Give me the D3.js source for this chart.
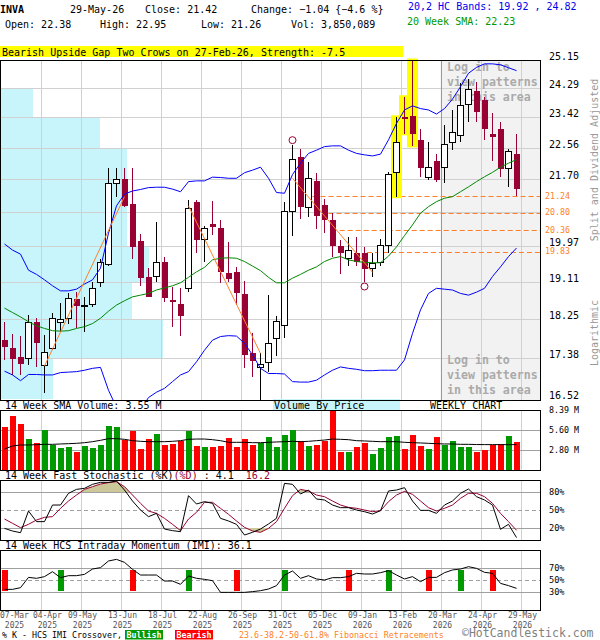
<!DOCTYPE html>
<html>
<head>
<meta charset="utf-8">
<script src="https://cdn.jsdelivr.net/npm/d3@7"></script>
<style>
  body { margin: 0; background: #fff; }
  svg { display: block; }
  text { white-space: pre; }
</style>
</head>
<body>
<div id="chart"></div>
<script>
// Weekly bars, 07-Mar-2025 .. 29-May-2026 (65 weeks)
const open  = [17.77,17.59,17.41,17.37,18.17,17.21,17.59,18.17,18.26,18.69,
               18.55,18.58,19.09,19.52,21.58,21.70,21.04,20.09,19.21,19.24,
               19.57,18.68,18.58,18.95,21.10,20.14,20.52,20.41,19.32,19.34,
               18.82,17.50,17.18,17.28,17.81,18.09,20.84,22.29,20.95,21.65,
               21.01,20.62,19.98,19.67,19.81,19.81,19.41,19.57,19.99,21.88,
               23.43,23.46,22.78,21.75,22.19,22.01,22.71,22.90,23.81,24.20,
               23.93,22.95,23.09,21.99,22.38];
const high  = [18.17,17.91,17.86,18.33,18.26,17.88,18.37,18.60,18.85,18.87,
               18.74,19.09,19.64,21.99,21.99,21.99,21.99,20.27,19.43,20.57,
               19.71,18.97,18.95,21.14,21.14,20.47,21.12,20.62,20.08,19.46,
               19.13,17.92,17.50,18.79,18.31,21.08,22.63,22.52,22.15,21.85,
               21.16,20.80,20.12,20.20,20.20,19.95,19.81,20.14,21.90,23.44,
               24.03,25.15,23.09,22.71,22.37,23.20,23.64,24.43,24.56,24.48,
               24.03,23.56,23.28,22.52,22.95];
const low   = [17.34,17.02,17.02,17.23,17.19,16.65,17.55,17.96,18.14,18.03,
               17.96,18.52,18.99,19.48,21.21,20.96,19.65,19.01,18.74,19.09,
               18.64,18.07,17.87,18.86,19.81,19.59,20.24,19.08,19.11,18.56,
               17.16,16.98,16.40,17.09,17.42,17.82,20.23,20.65,20.71,20.40,
               20.29,19.71,19.29,19.49,19.49,19.11,19.21,19.49,19.79,21.23,
               22.95,22.61,21.76,21.67,21.63,21.60,22.49,22.73,23.28,23.28,
               22.78,22.20,21.76,21.49,21.26];
const close = [17.63,17.37,17.25,18.17,17.70,17.50,18.26,18.24,18.72,18.55,
               18.56,18.95,19.57,21.58,21.69,20.99,19.95,19.20,18.75,19.57,
               18.72,18.62,18.32,20.93,20.12,20.41,20.45,19.34,19.17,18.85,
               17.45,17.32,17.25,17.70,18.18,20.84,22.24,20.95,21.72,20.73,
               20.62,19.98,19.79,19.85,19.57,19.41,19.55,19.98,21.81,22.71,
               23.38,22.95,22.01,22.01,21.67,22.65,22.99,23.76,24.25,23.57,
               23.09,22.87,21.97,22.46,21.42];

// volume in millions of shares and its 14 week average
const volume = [6.06,7.60,6.43,4.33,3.73,5.59,3.50,3.12,3.22,2.56,
                3.36,3.12,3.50,6.15,6.01,4.20,5.50,2.94,4.38,5.03,
                3.50,3.64,4.01,5.50,3.36,3.22,3.22,3.36,4.47,3.22,
                4.38,3.50,3.82,4.61,3.22,4.90,5.59,4.06,3.36,3.50,
                4.06,8.39,2.52,2.52,3.22,3.78,2.24,3.08,4.61,4.75,
                2.94,4.90,3.36,2.94,4.61,3.45,4.06,3.22,3.22,2.52,
                2.80,3.54,3.64,4.75,3.850089];
const volumeSma = [2.94,3.36,3.50,3.50,3.54,3.59,3.59,3.64,3.68,3.73,
                   3.82,3.96,4.15,4.38,4.38,4.29,4.10,4.01,3.96,3.96,
                   3.96,4.01,4.10,4.29,4.33,4.33,4.24,4.10,3.87,3.87,
                   3.87,3.82,3.82,3.87,3.92,3.96,4.01,3.96,4.01,4.10,
                   4.19,4.33,4.29,4.24,4.10,4.06,4.01,3.96,3.96,3.96,
                   3.87,3.82,3.78,3.73,3.68,3.64,3.64,3.59,3.59,3.56,
                   3.55,3.55,3.55,3.54,3.55];

// 20,2 bands and 20 week SMA
const bbUpper = [20.02,19.87,19.77,19.38,19.28,19.15,19.01,18.89,18.89,18.93,
                 19.05,19.15,19.43,20.29,20.99,21.30,21.38,21.42,21.47,21.48,
                 21.48,21.43,21.36,21.63,21.65,21.65,21.75,21.74,21.72,21.72,
                 21.87,21.94,22.02,21.72,21.34,21.32,21.82,22.13,22.40,22.49,
                 22.59,22.61,22.61,22.49,22.40,22.36,22.33,22.38,22.78,23.25,
                 23.64,23.76,23.68,23.64,23.52,23.68,23.96,24.33,24.74,24.92,
                 25.03,25.03,25.00,24.91,24.82];
const sma20   = [18.49,18.39,18.29,18.18,18.09,18.03,17.98,17.97,17.98,18.03,
                 18.07,18.14,18.26,18.42,18.56,18.66,18.75,18.79,18.83,18.91,
                 18.96,19.01,19.08,19.21,19.34,19.45,19.63,19.67,19.68,19.67,
                 19.59,19.48,19.37,19.21,19.08,19.08,19.19,19.28,19.38,19.46,
                 19.59,19.67,19.71,19.63,19.59,19.57,19.56,19.56,19.72,19.95,
                 20.23,20.50,20.80,20.97,21.10,21.19,21.23,21.36,21.49,21.63,
                 21.76,21.88,22.02,22.13,22.23];
const bbLower = [17.10,17.02,16.90,17.03,17.03,17.02,17.02,17.07,17.08,17.09,
                 17.12,17.16,17.18,16.70,16.35,16.20,16.15,16.30,16.55,16.66,
                 16.74,16.88,17.02,17.09,17.30,17.55,17.77,17.85,17.87,17.86,
                 17.70,17.45,17.16,17.05,17.05,17.04,16.88,16.87,16.87,16.91,
                 17.02,17.12,17.19,17.16,17.14,17.11,17.11,17.12,17.12,17.12,
                 17.34,17.92,18.45,18.83,18.95,18.93,18.91,18.83,18.79,18.86,
                 18.95,19.23,19.46,19.71,19.92];

// 14 week fast stochastic
const stochK = [19.4,15.0,12.2,48.3,30.6,30.6,58.3,58.3,77.8,84.4,
                86.1,92.8,96.1,96.1,98.3,83.3,65.0,50.0,38.9,44.4,
                18.3,15.6,13.9,73.9,60.0,63.9,61.1,36.1,31.7,26.1,
                8.3,12.8,18.3,26.7,36.1,94.4,92.8,76.7,83.3,68.3,
                66.7,58.3,53.9,53.9,50.0,47.2,43.3,48.9,81.7,83.3,
                87.2,65.0,49.4,49.4,44.4,58.3,65.0,77.8,85.0,72.2,
                66.7,58.3,17.8,26.1,4.1];
const stochD = [35.0,27.8,20.6,26.1,33.3,37.8,38.9,52.8,65.0,75.0,
                84.4,88.9,93.3,95.6,97.2,88.9,75.0,61.1,48.3,44.4,
                36.1,26.1,15.6,35.0,46.1,62.8,62.8,52.8,42.8,31.7,
                21.1,15.0,12.8,19.4,30.6,52.8,73.9,84.4,81.7,75.0,
                72.2,65.0,58.3,54.4,52.8,50.0,47.2,48.9,63.9,75.0,
                81.0,76.1,65.0,53.9,48.3,52.8,58.3,69.4,77.8,77.8,
                72.2,61.1,44.4,30.6,16.2];

// 14 week HCS intraday momentum and %K crossovers
const imi = [34.4,34.4,37.2,54.4,52.8,55.6,63.9,53.9,57.2,57.2,
             59.4,68.3,70.6,81.7,84.4,79.4,67.8,58.3,58.3,58.3,
             48.3,48.3,42.8,56.7,52.8,51.1,48.9,29.4,29.4,29.4,
             29.4,30.6,32.2,35.0,40.6,58.3,65.0,52.8,57.2,51.7,
             50.0,53.9,53.9,55.6,61.1,60.0,60.0,62.2,65.6,58.3,
             51.7,55.6,47.2,54.4,54.4,62.2,66.7,68.3,72.2,69.4,
             62.8,61.1,44.4,40.6,36.1];
const imiBullish = [7, 23, 35, 48, 57];
const imiBearish = [0, 16, 29, 43, 53, 61];

// axes
const priceTicks = [25.15,24.29,23.42,22.56,21.70,20.83,19.97,19.11,18.25,17.38,16.52];
const vbpVolume  = [0, 8.6, 26.0, 33.0, 33.0, 33.0, 38.7, 34.3, 42.4, 13.8]; // per price band, M shares
const volTicks   = [2.80, 5.60, 8.39];
const stochTicks = [20, 50, 80];
const imiTicks   = [30, 50, 70];
const tickIdx  = [0,4,9,14,19,24,29,34,39,44,49,54,59,64];
const tickDay  = ["07-Mar","04-Apr","09-May","13-Jun","18-Jul","22-Aug","26-Sep",
                  "31-Oct","05-Dec","09-Jan","13-Feb","20-Mar","24-Apr","29-May"];
const tickYear = ["2025","2025","2025","2025","2025","2025","2025",
                  "2025","2025","2026","2026","2026","2026","2026"];

// annotations
const fibLevels  = [21.24, 20.80, 20.36, 19.83];
const fibStart   = [38.5, 40.5, 41.9, 45.3];
const trendLines = [[5, 17.21, 15, 21.23], [23, 20.99, 32, 17.48], [36, 21.72, 46, 19.33]];
const swingHighs = [36];
const swingLows  = [45];
const patternBars = [49, 50, 51];
const lockedFrom = 54;

// ------------------------------------------------------------------
const plotW = 540;
const mainP = { top: 60, bottom: 400 };
const volP  = { top: 410, bottom: 470 };
const stoP  = { top: 480, bottom: 540 };
const imiP  = { top: 550, bottom: 610 };

const bear = "#990033", volUp = "#009900", volDown = "#ff0000";
const gridC = "#d0d0d0", grid2 = "#a0a0a0", fibC = "#ff7f27", khaki = "#ccc899";

const N = close.length;
const x = d3.scaleLinear().domain([0, N - 1]).range([4.5, 4.5 + 8 * (N - 1)]);
const gridX = i => x(i) + 4;
const yPrice = d3.scaleLog().domain([16.52, 25.15]).range([399, 60]);
const yVol = d3.scaleLinear().domain([0, 8.39]).range([volP.bottom, volP.top]);
const yStoch = d3.scaleLinear().domain([0, 100]).range([stoP.bottom, stoP.top]);
const yImi = d3.scaleLinear().domain([0, 100]).range([imiP.bottom, imiP.top]);
const vbpX = d3.scaleLinear().domain([0, d3.max(vbpVolume)]).range([0, plotW * 0.302]);

const f2 = d3.format(".2f");
const f1 = d3.format(".1f");

const svg = d3.select("#chart").append("svg")
    .attr("width", 600)
    .attr("height", 640)
    .style("font-family", "'DejaVu Sans Mono', monospace");

svg.append("rect").attr("width", 600).attr("height", 640).attr("fill", "#fff");

const defs = svg.append("defs");
function clip(id, p) {
    defs.append("clipPath").attr("id", id).append("rect")
        .attr("x", 0).attr("y", p.top).attr("width", plotW).attr("height", p.bottom - p.top);
}
clip("clipMain", mainP);
clip("clipVol", volP);
clip("clipSto", stoP);
clip("clipImi", imiP);

function txt(g, xx, yy, s, size, fill) {
    return g.append("text").attr("x", xx).attr("y", yy)
        .attr("font-size", size).attr("fill", fill || "#000").text(s);
}

function vGrid(g, p) {
    g.selectAll(null).data(tickIdx.slice(1)).enter().append("line")
        .attr("x1", d => gridX(d) + 0.5).attr("x2", d => gridX(d) + 0.5)
        .attr("y1", p.top).attr("y2", p.bottom)
        .attr("stroke", gridC).attr("shape-rendering", "crispEdges");
}

function hGrid(g, ys, color, dash) {
    g.selectAll(null).data(ys).enter().append("line")
        .attr("x1", 0).attr("x2", plotW)
        .attr("y1", d => Math.round(d) + 0.5).attr("y2", d => Math.round(d) + 0.5)
        .attr("stroke", color).attr("stroke-dasharray", dash || null)
        .attr("shape-rendering", "crispEdges");
}

function border(p) {
    svg.append("rect").attr("x", 0.5).attr("y", p.top + 0.5)
        .attr("width", plotW).attr("height", p.bottom - p.top)
        .attr("fill", "none").attr("stroke", "#000").attr("shape-rendering", "crispEdges");
}

// ---------------- header ----------------
const last = N - 1;
const chg = close[last] - close[last - 1];
const head = svg.append("g").attr("font-size", 10);
txt(head, 0, 13, "INVA", 10).attr("font-weight", "bold");
txt(head, 70, 13, "29-May-26", 10);
txt(head, 145, 13, "Close: " + f2(close[last]), 10);
txt(head, 251, 13, "Change: " + f2(chg) + " {" + f1(chg / close[last - 1] * 100) + " %}", 10);
txt(head, 5, 28, "Open: " + f2(open[last]), 10);
txt(head, 100, 28, "High: " + f2(high[last]), 10);
txt(head, 201, 28, "Low: " + f2(low[last]), 10);
txt(head, 291, 28, "Vol: " + d3.format(",")(Math.round(volume[last] * 1e6)), 10);
txt(head, 408, 10, "20,2 HC Bands: " + f2(bbLower[last]) + " , " + f2(bbUpper[last]), 10, "#0000ee");
txt(head, 407, 25, "20 Week SMA: " + f2(sma20[last]), 10, "#009900");

head.append("rect").attr("x", 0).attr("y", 46).attr("width", 403).attr("height", 11).attr("fill", "#ffff00");
txt(head, 2, 55.5, "Bearish Upside Gap Two Crows on 27-Feb-26, Strength: -7.5", 10);

// ---------------- main price panel ----------------
const gMain = svg.append("g");
gMain.append("rect").attr("x", 0).attr("y", mainP.top).attr("width", plotW)
    .attr("height", mainP.bottom - mainP.top).attr("fill", "#fff");

// locked area on the right
const lockX = gridX(lockedFrom);
gMain.append("rect").attr("x", lockX).attr("y", mainP.top).attr("width", plotW - lockX)
    .attr("height", mainP.bottom - mainP.top).attr("fill", "#f2f2f2");

// volume by price
gMain.selectAll(".vbp").data(vbpVolume).enter().append("rect")
    .attr("class", "vbp")
    .attr("x", 0)
    .attr("y", (d, k) => Math.round(yPrice(priceTicks[k])))
    .attr("width", d => vbpX(d))
    .attr("height", (d, k) => Math.round(yPrice(priceTicks[k + 1])) - Math.round(yPrice(priceTicks[k])))
    .attr("fill", "#c8f4fc")
    .attr("shape-rendering", "crispEdges");

hGrid(gMain, priceTicks.slice(1, -1).map(yPrice), gridC);
vGrid(gMain, mainP);
gMain.append("line").attr("x1", lockX + 0.5).attr("x2", lockX + 0.5)
    .attr("y1", mainP.top).attr("y2", mainP.bottom).attr("stroke", "#999")
    .attr("shape-rendering", "crispEdges");

const loginLines = ["Log in to", "view patterns", "in this area"];
[71, 363.5].forEach(y0 => {
    loginLines.forEach((s, k) => {
        txt(gMain, lockX + 6.5, y0 + k * 15, s, 11.6, "#aaaaaa").attr("font-weight", "bold");
    });
});

// fibonacci retracements
gMain.selectAll(".fib").data(fibLevels).enter().append("line")
    .attr("x1", (d, k) => x(fibStart[k])).attr("x2", plotW)
    .attr("y1", d => Math.round(yPrice(d)) + 0.5).attr("y2", d => Math.round(yPrice(d)) + 0.5)
    .attr("stroke", fibC).attr("stroke-dasharray", "5,3");

// pattern highlight
gMain.selectAll(".hl").data(patternBars).enter().append("rect")
    .attr("x", d => x(d) - 5.5).attr("width", 11)
    .attr("y", d => yPrice(high[d]) - 1.5)
    .attr("height", d => yPrice(low[d]) - yPrice(high[d]) + 3)
    .attr("fill", "#ffff00");

// candles
const gC = gMain.append("g").attr("clip-path", "url(#clipMain)");
const bars = d3.range(N);
gC.selectAll(".wick").data(bars).enter().append("line")
    .attr("x1", i => x(i)).attr("x2", i => x(i))
    .attr("y1", i => yPrice(high[i])).attr("y2", i => yPrice(low[i]))
    .attr("stroke", i => close[i] >= open[i] ? "#000" : bear)
    .attr("shape-rendering", "crispEdges");
gC.selectAll(".body").data(bars).enter().append("rect")
    .attr("x", i => x(i) - 3).attr("width", 6)
    .attr("y", i => yPrice(Math.max(open[i], close[i])))
    .attr("height", i => Math.max(1, Math.abs(yPrice(open[i]) - yPrice(close[i]))))
    .attr("fill", i => close[i] >= open[i] ? "#fff" : bear)
    .attr("stroke", i => close[i] >= open[i] ? "#000" : "none")
    .attr("shape-rendering", "crispEdges");

// bands and SMA
const priceLine = d3.line().x((d, i) => x(i)).y(d => yPrice(d));
gC.append("path").datum(bbUpper).attr("d", priceLine).attr("fill", "none").attr("stroke", "#0000ff");
gC.append("path").datum(bbLower).attr("d", priceLine).attr("fill", "none").attr("stroke", "#0000ff");
gC.append("path").datum(sma20).attr("d", priceLine).attr("fill", "none").attr("stroke", "#008800");

// swing lines
gC.selectAll(".trend").data(trendLines).enter().append("line")
    .attr("x1", d => x(d[0])).attr("y1", d => yPrice(d[1]))
    .attr("x2", d => x(d[2])).attr("y2", d => yPrice(d[3]))
    .attr("stroke", fibC);

gMain.selectAll(".sh").data(swingHighs).enter().append("circle")
    .attr("cx", d => x(d)).attr("cy", d => yPrice(high[d]) - 5).attr("r", 3.5)
    .attr("fill", "none").attr("stroke", bear);
gMain.selectAll(".sl").data(swingLows).enter().append("circle")
    .attr("cx", d => x(d)).attr("cy", d => yPrice(low[d]) + 5).attr("r", 3.5)
    .attr("fill", "none").attr("stroke", bear);

// right price axis
const gAx = svg.append("g");
const fibYs = fibLevels.map(yPrice);
priceTicks.filter(t => d3.min(fibYs, fy => Math.abs(fy - yPrice(t))) > 4).forEach(t => {
    txt(gAx, 549, yPrice(t), f2(t), 10);
});
fibLevels.forEach(f => txt(gAx, 545, yPrice(f) + 2.3, f2(f), 8.3, fibC));

gAx.append("text").attr("font-size", 10).attr("fill", "#999").attr("text-anchor", "middle")
    .attr("transform", "translate(598,160) rotate(-90)").text("Split and Dividend Adjusted");
gAx.append("text").attr("font-size", 10).attr("fill", "#999").attr("text-anchor", "middle")
    .attr("transform", "translate(598,333) rotate(-90)").text("Logarithmic");

// "Volume By Price" tag and panel title line
svg.append("rect").attr("x", 273).attr("y", 399).attr("width", 127).attr("height", 11).attr("fill", "#c8f4fc");
txt(svg, 274, 409, "Volume By Price", 10);
txt(svg, 430, 409, "WEEKLY CHART", 10);
txt(svg, 5, 409, "14 Week SMA Volume: " + f2(volumeSma[last]) + " M", 10);
border(mainP);

// ---------------- volume panel ----------------
const gVol = svg.append("g");
vGrid(gVol, volP);
hGrid(gVol, volTicks.slice(0, 2).map(yVol), grid2);
const gV = gVol.append("g").attr("clip-path", "url(#clipVol)");
gV.selectAll(".vb").data(volume).enter().append("rect")
    .attr("x", (d, i) => x(i) - 3).attr("width", 6)
    .attr("y", d => yVol(d)).attr("height", d => volP.bottom - yVol(d))
    .attr("fill", (d, i) => close[i] >= open[i] ? volUp : volDown)
    .attr("shape-rendering", "crispEdges");
gV.append("path").datum(volumeSma)
    .attr("d", d3.line().x((d, i) => x(i)).y(d => yVol(d)))
    .attr("fill", "none").attr("stroke", "#000");
volTicks.forEach(t => txt(gAx, 549, yVol(t) + 3, f2(t) + " M", 8.3));
border(volP);

// ---------------- stochastic panel ----------------
const stoTitle = svg.append("text").attr("x", 5).attr("y", 479).attr("font-size", 10);
stoTitle.append("tspan").text("14 Week Fast Stochastic (%K)");
stoTitle.append("tspan").attr("fill", bear).text("(%D)");
stoTitle.append("tspan").text(" : " + f1(stochK[last]));
stoTitle.append("tspan").attr("fill", bear).text("  " + f1(stochD[last]));

const gSto = svg.append("g");
vGrid(gSto, stoP);
hGrid(gSto, [yStoch(80), yStoch(20)], grid2);
hGrid(gSto, [yStoch(50)], grid2, "4,3");

defs.append("clipPath").attr("id", "stoHi").append("rect")
    .attr("x", 0).attr("y", stoP.top).attr("width", plotW).attr("height", yStoch(80) - stoP.top);
defs.append("clipPath").attr("id", "stoLo").append("rect")
    .attr("x", 0).attr("y", yStoch(20)).attr("width", plotW).attr("height", stoP.bottom - yStoch(20));
const zone = th => d3.area().x((d, i) => x(i)).y0(yStoch(th)).y1(d => yStoch(d));
gSto.append("path").datum(stochD).attr("d", zone(80)).attr("fill", khaki).attr("clip-path", "url(#stoHi)");
gSto.append("path").datum(stochD).attr("d", zone(20)).attr("fill", khaki).attr("clip-path", "url(#stoLo)");

const stoLine = d3.line().x((d, i) => x(i)).y(d => yStoch(d));
const gS = gSto.append("g").attr("clip-path", "url(#clipSto)");
gS.append("path").datum(stochD).attr("d", stoLine).attr("fill", "none").attr("stroke", bear);
gS.append("path").datum(stochK).attr("d", stoLine).attr("fill", "none").attr("stroke", "#000");
stochTicks.forEach(t => txt(gAx, 549, yStoch(t) + 3, t + "%", 8.6));
border(stoP);

// ---------------- IMI panel ----------------
txt(svg, 5, 549, "14 Week HCS Intraday Momentum (IMI): " + f1(imi[last]), 10);
const gImi = svg.append("g");
vGrid(gImi, imiP);
hGrid(gImi, [yImi(70), yImi(30)], grid2);
hGrid(gImi, [yImi(50)], grid2, "4,3");
const marks = imiBullish.map(i => ({ i, c: volUp })).concat(imiBearish.map(i => ({ i, c: volDown })));
gImi.selectAll(".mk").data(marks).enter().append("rect")
    .attr("x", d => x(d.i) - 3).attr("width", 6)
    .attr("y", yImi(67)).attr("height", yImi(32) - yImi(67))
    .attr("fill", d => d.c).attr("shape-rendering", "crispEdges");
gImi.append("g").attr("clip-path", "url(#clipImi)").append("path").datum(imi)
    .attr("d", d3.line().x((d, i) => x(i)).y(d => yImi(d)))
    .attr("fill", "none").attr("stroke", "#000");
imiTicks.forEach(t => txt(gAx, 549, yImi(t) + 3, t + "%", 8.6));
border(imiP);

// ---------------- date axis ----------------
const gDates = svg.append("g");
let prevRight = -Infinity;
tickIdx.forEach((ti, k) => {
    const t = txt(gDates, 0, 618, tickDay[k], 8, "#555");
    const w = t.node().getComputedTextLength();
    const left = Math.max(0, gridX(ti) + 2 - w / 2, prevRight + 4);
    t.attr("x", left);
    txt(gDates, left + w / 2, 627.5, tickYear[k], 8, "#555").attr("text-anchor", "middle");
    prevRight = left + w;
});

// ---------------- footer ----------------
const foot = svg.append("g");
txt(foot, 2, 637.5, "% K - HCS IMI Crossover,", 8.3);
foot.append("rect").attr("x", 125).attr("y", 630).attr("width", 38).attr("height", 9.5).attr("fill", volUp);
txt(foot, 144, 637.5, "Bullish", 8.3, "#fff").attr("text-anchor", "middle").attr("font-weight", "bold");
foot.append("rect").attr("x", 175).attr("y", 630).attr("width", 38).attr("height", 9.5).attr("fill", volDown);
txt(foot, 194, 637.5, "Bearish", 8.3, "#fff").attr("text-anchor", "middle").attr("font-weight", "bold");
txt(foot, 239, 637.5, "23.6-38.2-50-61.8% Fibonacci Retracements", 8.3, fibC);
txt(foot, 462, 637, "\u00a9HotCandlestick.com", 11.5, "#808080");
</script>
</body>
</html>
